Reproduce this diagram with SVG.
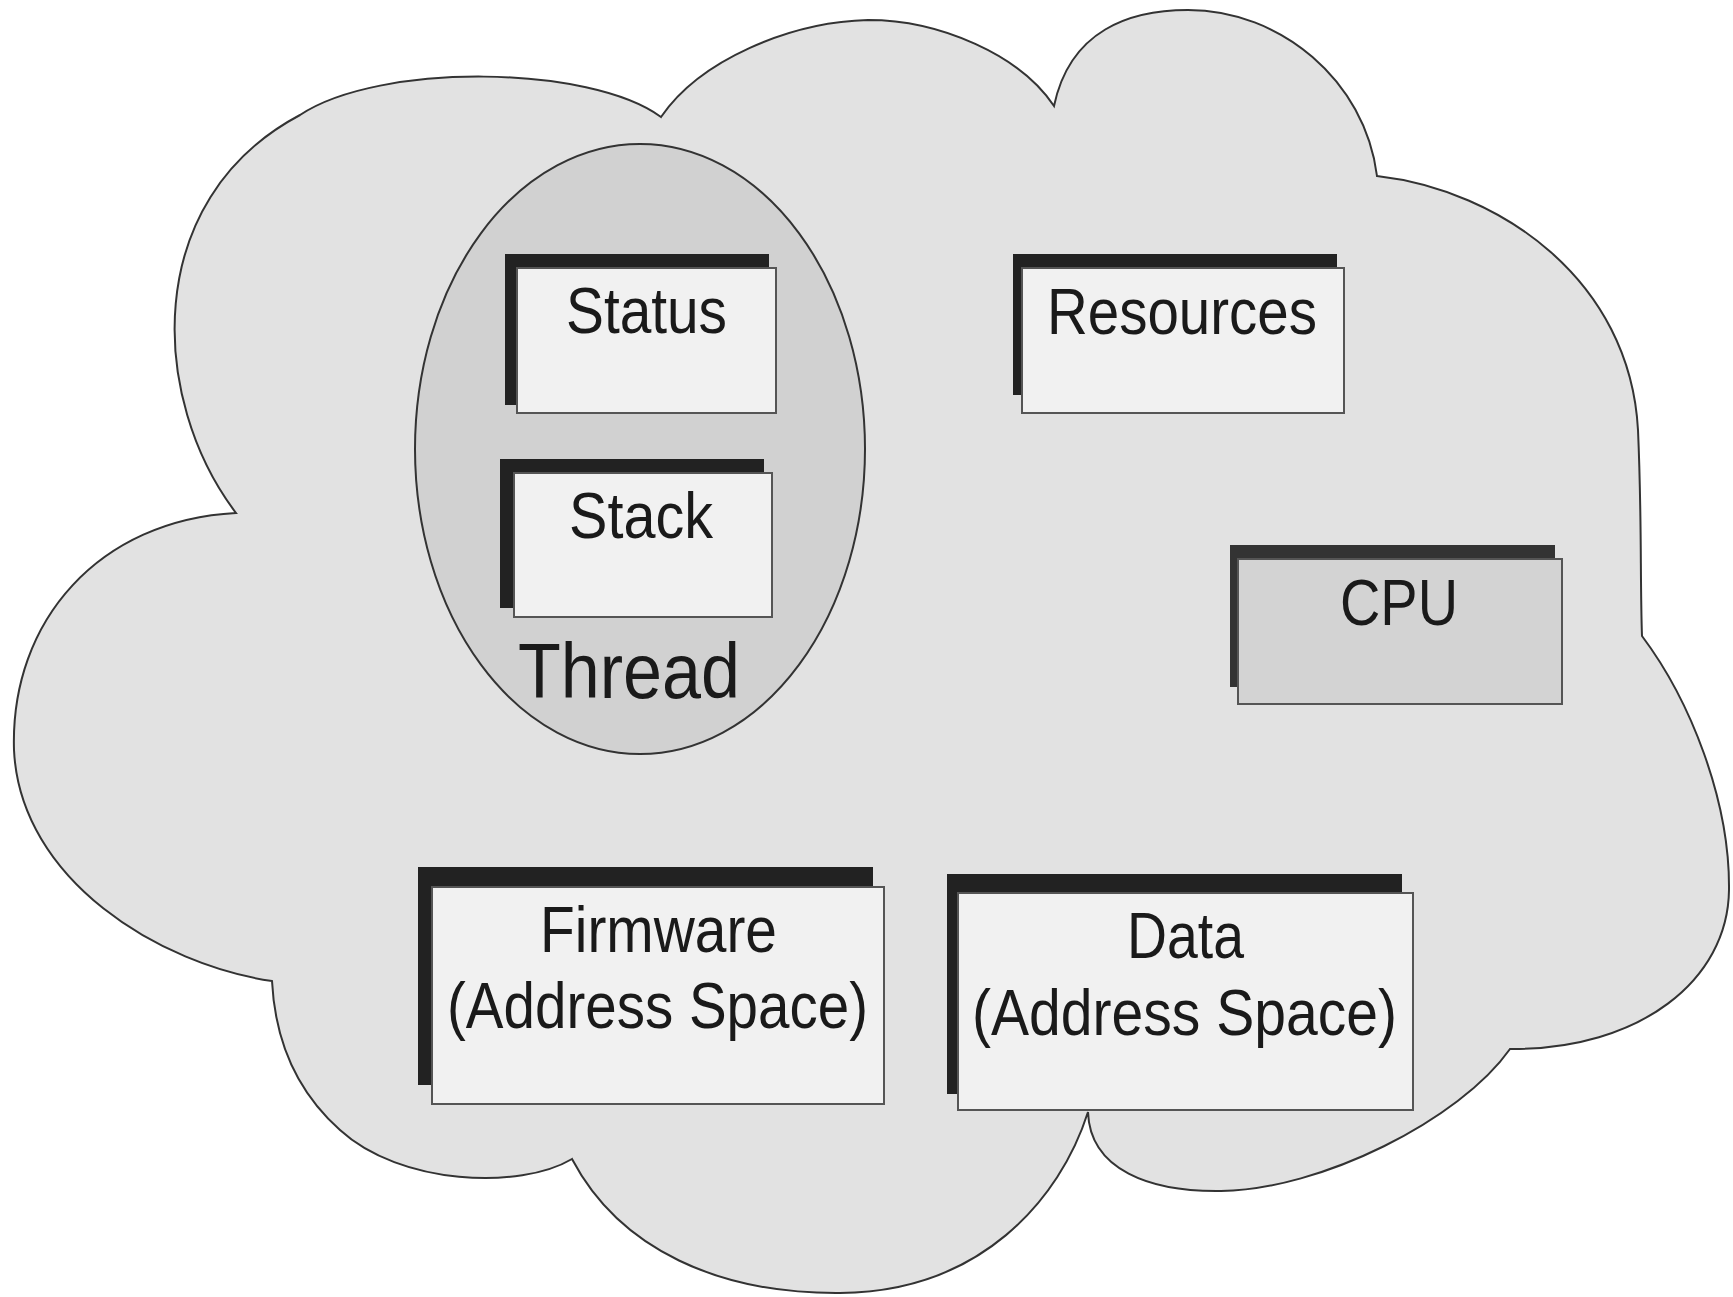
<svg xmlns="http://www.w3.org/2000/svg" width="1733" height="1297" viewBox="0 0 1733 1297">
<style>
.cloud{fill:#e2e2e2;stroke:#333;stroke-width:2}
.thread{fill:#d1d1d1;stroke:#333;stroke-width:2}
.shadow{fill:#222}
.card{fill:#f1f1f1;stroke:#555;stroke-width:2}
.cpu{fill:#d3d3d3;stroke:#555;stroke-width:2}
.lbl{font-family:"Liberation Sans",Arial,sans-serif;font-size:64px;fill:#1a1a1a;text-anchor:middle}
</style>
<rect width="1733" height="1297" fill="#ffffff"/>
<g id="process-cloud">
<path class="cloud" d="M236,513 C150,400 140,200 300,115 C380,62 590,65 661,117 C700,60 790,22 868,20 C940,20 1020,55 1054,106 C1070,30 1130,10 1188,10 C1280,10 1365,80 1377,176 C1500,190 1630,280 1638,430 C1642,520 1640,580 1642,636 C1690,700 1730,800 1729,890 C1728,980 1640,1050 1510,1049 C1460,1120 1320,1190 1221,1191 C1150,1192 1090,1170 1088,1112 C1060,1200 980,1292 840,1293 C720,1294 620,1250 572,1159 C520,1190 400,1185 340,1130 C295,1090 275,1040 272,981 C160,965 20,880 14,750 C10,620 100,520 236,513 Z"/>
</g>
<g id="thread">
<ellipse class="thread" cx="640" cy="449" rx="225" ry="305"/>
<text class="lbl" x="629" y="698" style="font-size:78px" textLength="222" lengthAdjust="spacingAndGlyphs">Thread</text>
</g>
<g id="status">
<rect class="shadow" x="505" y="254" width="264" height="151"/>
<rect class="card" x="517" y="268" width="259" height="145"/>
<text class="lbl" x="646.5" y="333" textLength="161" lengthAdjust="spacingAndGlyphs">Status</text>
</g>
<g id="stack">
<rect class="shadow" x="500" y="459" width="264" height="149"/>
<rect class="card" x="514" y="473" width="258" height="144"/>
<text class="lbl" x="641" y="538" textLength="144" lengthAdjust="spacingAndGlyphs">Stack</text>
</g>
<g id="resources">
<rect class="shadow" x="1013" y="254" width="324" height="141"/>
<rect class="card" x="1022" y="268" width="322" height="145"/>
<text class="lbl" x="1182" y="334" textLength="270" lengthAdjust="spacingAndGlyphs">Resources</text>
</g>
<g id="cpu">
<rect class="shadow" x="1230" y="545" width="325" height="142" style="fill:#333"/>
<rect class="cpu" x="1238" y="559" width="324" height="145"/>
<text class="lbl" x="1399" y="625" textLength="118" lengthAdjust="spacingAndGlyphs">CPU</text>
</g>
<g id="firmware">
<rect class="shadow" x="418" y="867" width="455" height="218"/>
<rect class="card" x="432" y="887" width="452" height="217"/>
<text class="lbl" x="658.5" y="952" textLength="237" lengthAdjust="spacingAndGlyphs">Firmware</text>
<text class="lbl" x="657.5" y="1028" textLength="421" lengthAdjust="spacingAndGlyphs">(Address Space)</text>
</g>
<g id="data">
<rect class="shadow" x="947" y="874" width="455" height="220"/>
<rect class="card" x="958" y="893" width="455" height="217"/>
<text class="lbl" x="1185.5" y="958" textLength="117" lengthAdjust="spacingAndGlyphs">Data</text>
<text class="lbl" x="1184.5" y="1035" textLength="425" lengthAdjust="spacingAndGlyphs">(Address Space)</text>
</g>
<g id="connectors"></g>
</svg>
